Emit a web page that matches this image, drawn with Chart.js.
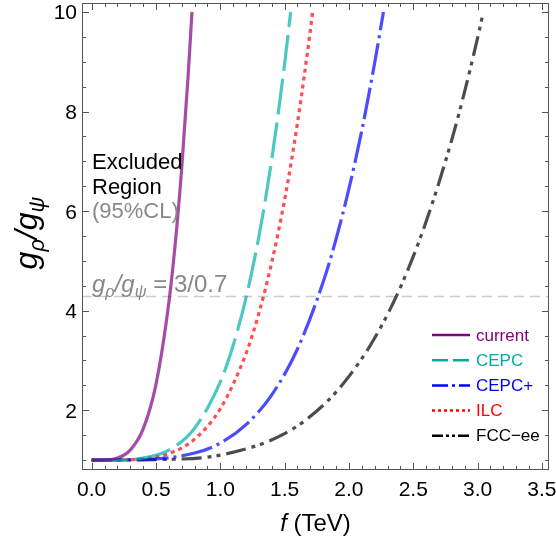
<!DOCTYPE html>
<html>
<head>
<meta charset="utf-8">
<script src="https://cdn.jsdelivr.net/npm/chart.js@4.4.1/dist/chart.umd.min.js"></script>
<style>
  html, body { margin: 0; padding: 0; background: #fff; }
  #wrap { width: 556px; height: 540px; }
</style>
</head>
<body>
<div id="wrap"><canvas id="chartLimites"></canvas></div>
<script>
// valores: f em TeV, razão g_rho/g_psi
const currentF = [0, 0.1, 0.2, 0.3, 0.4, 0.5, 0.6, 0.65, 0.7, 0.75, 0.78];
const currentG = [1.00, 1.00, 1.04, 1.20, 1.62, 2.52, 4.16, 5.35, 6.86, 8.72, 10.0];

const cepcF = [0, 0.2, 0.4, 0.6, 0.8, 1.0, 1.1, 1.2, 1.3, 1.4, 1.5, 1.547];
const cepcG = [1.00, 1.00, 1.04, 1.20, 1.64, 2.57, 3.30, 4.26, 5.49, 7.04, 8.96, 10.0];

const cepcPlusF = [0, 0.4, 0.8, 1.0, 1.2, 1.4, 1.6, 1.8, 1.9, 2.0, 2.1, 2.2, 2.268];
const cepcPlusG = [1.00, 1.01, 1.14, 1.34, 1.71, 2.31, 3.23, 4.58, 5.44, 6.45, 7.62, 8.98, 10.0];

const ilcF = [0, 0.2, 0.4, 0.6, 0.8, 1.0, 1.2, 1.3, 1.4, 1.5, 1.6, 1.7, 1.718];
const ilcG = [1.00, 1.00, 1.03, 1.13, 1.42, 2.03, 3.14, 3.95, 4.97, 6.23, 7.77, 9.63, 10.0];

const fccF = [0, 0.5, 1.0, 1.5, 1.8, 2.0, 2.2, 2.4, 2.6, 2.8, 2.9, 3.0, 3.045];
const fccG = [1.00, 1.01, 1.10, 1.53, 2.10, 2.68, 3.45, 4.47, 5.79, 7.44, 8.41, 9.48, 10.0];

const seriesNames = ['current', 'CEPC', 'CEPC+', 'ILC', 'FCC\u2212ee'];
const refRatio = 3 / 0.7;
const refF = [-0.2, 3.7];

const xTickLabels = [0, 0.5, 1.0, 1.5, 2.0, 2.5, 3.0, 3.5];
const yTickLabels = [2, 4, 6, 8, 10];

const FONT = '"Liberation Sans", Arial, sans-serif';

const estilos = [
  { line: 'rgba(128,0,128,0.7)', solid: '#800080', dash: [], legDash: [] },
  { line: 'rgba(0,176,170,0.7)', solid: '#00aaaa', dash: [36, 8], legDash: [16, 5] },
  { line: 'rgba(0,0,255,0.7)', solid: '#0000ff', dash: [32, 5, 3, 5], legDash: [16, 4, 3, 4] },
  { line: 'rgba(255,0,0,0.7)', solid: '#ff0000', dash: [4, 4], legDash: [3, 3] },
  { line: 'rgba(0,0,0,0.7)', solid: '#000000', dash: [20, 6, 4, 5, 4, 6], legDash: [11, 3, 3, 3, 3, 3] },
];

function pontos(fs, gs) {
  return fs.map((f, i) => ({ x: f, y: gs[i] }));
}

const series = [
  pontos(currentF, currentG),
  pontos(cepcF, cepcG),
  pontos(cepcPlusF, cepcPlusG),
  pontos(ilcF, ilcG),
  pontos(fccF, fccG),
];

function drawRuns(ctx, runs, x, y, size, color) {
  let cx = x;
  runs.forEach(([t, st]) => {
    const sub = st === 's';
    const sz = sub ? size * 0.68 : size;
    ctx.font = (st === 'r' ? '' : 'italic ') + sz + 'px ' + FONT;
    ctx.fillStyle = color;
    ctx.fillText(t, cx, y + (sub ? size * 0.22 : 0));
    cx += ctx.measureText(t).width;
  });
  return cx - x;
}

function runsWidth(ctx, runs, size) {
  let w = 0;
  runs.forEach(([t, st]) => {
    const sz = st === 's' ? size * 0.68 : size;
    ctx.font = (st === 'r' ? '' : 'italic ') + sz + 'px ' + FONT;
    w += ctx.measureText(t).width;
  });
  return w;
}

const moldura = {
  id: 'moldura',
  afterDraw(chart) {
    const { ctx, chartArea: a, scales: { x, y } } = chart;
    ctx.save();
    ctx.strokeStyle = '#555';
    ctx.lineWidth = 1;
    ctx.setLineDash([]);
    ctx.strokeRect(a.left + 0.5, a.top + 0.5, a.right - a.left - 1, a.bottom - a.top - 1);

    ctx.beginPath();
    for (let i = 0; i <= 35; i++) {
      const v = i / 10;
      const px = Math.round(x.getPixelForValue(v)) + 0.5;
      const len = i % 5 === 0 ? 7 : 4;
      ctx.moveTo(px, a.bottom); ctx.lineTo(px, a.bottom - len);
      ctx.moveTo(px, a.top); ctx.lineTo(px, a.top + len);
    }
    for (let i = 2; i <= 20; i++) {
      const v = i / 2;
      const py = Math.round(y.getPixelForValue(v)) + 0.5;
      const len = i % 4 === 0 ? 7 : 4;
      ctx.moveTo(a.left, py); ctx.lineTo(a.left + len, py);
      ctx.moveTo(a.right, py); ctx.lineTo(a.right - len, py);
    }
    ctx.stroke();

    // tick labels
    ctx.fillStyle = '#000';
    ctx.font = '21px ' + FONT;
    ctx.textAlign = 'center';
    ctx.textBaseline = 'alphabetic';
    xTickLabels.forEach(v => {
      ctx.fillText(v.toFixed(1), x.getPixelForValue(v), 496);
    });
    ctx.textAlign = 'right';
    yTickLabels.forEach(v => {
      ctx.fillText(String(v), a.left - 5, y.getPixelForValue(v) + 7.5);
    });

    // axis titles
    ctx.textAlign = 'left';
    const xRuns = [['f', 'i'], [' (TeV)', 'r']];
    const xw = runsWidth(ctx, xRuns, 24);
    drawRuns(ctx, xRuns, (a.left + a.right) / 2 - xw / 2, 531, 24, '#000');

    const yRuns = [['g', 'i'], ['\u03c1', 's'], ['/', 'i'], ['g', 'i'], ['\u03c8', 's']];
    ctx.save();
    ctx.translate(37, 233);
    ctx.rotate(-Math.PI / 2);
    const yw = runsWidth(ctx, yRuns, 32);
    drawRuns(ctx, yRuns, -yw / 2, 0, 32, '#000');
    ctx.restore();

    // anotações
    ctx.font = '22px ' + FONT;
    ctx.fillStyle = '#000';
    ctx.fillText('Excluded', 92, 169);
    ctx.fillText('Region', 92, 194);
    ctx.fillStyle = '#888';
    ctx.fillText('(95%CL)', 92, 218);
    const refRuns = [['g', 'i'], ['\u03c1', 's'], ['/', 'i'], ['g', 'i'], ['\u03c8', 's'], [' = 3/0.7', 'r']];
    drawRuns(ctx, refRuns, 92, 292, 24, '#888');

    // legenda
    ctx.font = '17px ' + FONT;
    ctx.textBaseline = 'middle';
    seriesNames.forEach((nome, i) => {
      const yy = 335 + i * 25.2;
      ctx.strokeStyle = estilos[i].solid;
      ctx.lineWidth = 2.5;
      ctx.setLineDash(estilos[i].legDash);
      ctx.beginPath();
      ctx.moveTo(432, yy); ctx.lineTo(470, yy);
      ctx.stroke();
      ctx.fillStyle = estilos[i].solid;
      ctx.fillText(nome, 476, yy + 1);
    });
    ctx.restore();
  }
};

const datasets = series.map((pts, i) => ({
  label: seriesNames[i],
  data: pts,
  borderColor: estilos[i].line,
  borderWidth: 3.2,
  borderDash: estilos[i].dash,
  borderCapStyle: 'butt',
  pointRadius: 0,
  fill: false,
  cubicInterpolationMode: 'monotone',
}));

datasets.push({
  label: 'ref',
  data: refF.map(f => ({ x: f, y: refRatio })),
  borderColor: '#cccccc',
  borderWidth: 1.5,
  borderDash: [10, 6],
  pointRadius: 0,
  fill: false,
  order: 10,
});

new Chart(document.getElementById('chartLimites'), {
  type: 'line',
  data: { datasets },
  options: {
    responsive: true,
    maintainAspectRatio: false,
    animation: false,
    devicePixelRatio: 1,
    layout: { padding: { top: 3, right: 7, left: 0, bottom: 0 } },
    plugins: { legend: { display: false }, tooltip: { enabled: false } },
    scales: {
      x: {
        type: 'linear',
        min: -0.075,
        max: 3.555,
        grid: { display: false },
        border: { display: false },
        ticks: { display: false },
        afterFit: s => { s.height = 70; },
      },
      y: {
        type: 'linear',
        min: 0.8,
        max: 10.18,
        grid: { display: false },
        border: { display: false },
        ticks: { display: false },
        afterFit: s => { s.width = 82; },
      },
    },
  },
  plugins: [moldura],
});
</script>
</body>
</html>
